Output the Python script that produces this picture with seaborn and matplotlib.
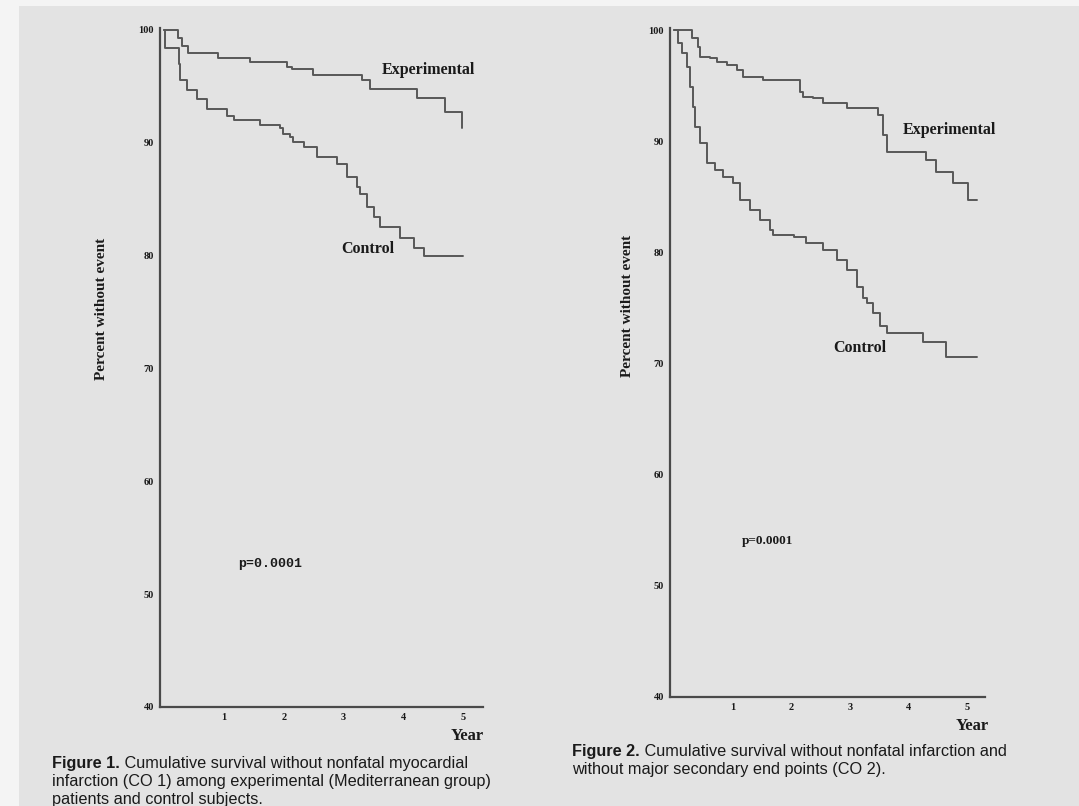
import numpy as np
import pandas as pd
import matplotlib
matplotlib.use("Agg")
import matplotlib.pyplot as plt
from matplotlib.patches import Rectangle
import seaborn as sns

# ---- Figure 1: survival without nonfatal myocardial infarction (CO 1) ----
fig1_exp_years = [0.0, 0.23, 0.30, 0.40, 0.90, 1.44, 2.06, 2.14, 2.49, 3.30, 3.44, 4.23, 4.70, 4.98]
fig1_exp_pct = [100.0, 99.3, 98.6, 98.0, 97.5, 97.2, 96.7, 96.5, 96.0, 95.6, 94.8, 94.0, 92.7, 91.3]

fig1_ctl_years = [0.0, 0.02, 0.24, 0.27, 0.38, 0.55, 0.71, 1.05, 1.16, 1.61, 1.94, 1.99, 2.11, 2.16,
                  2.33, 2.55, 2.89, 3.06, 3.22, 3.28, 3.39, 3.50, 3.61, 3.95, 4.17, 4.34, 5.00]
fig1_ctl_pct = [100.0, 98.4, 97.0, 95.6, 94.7, 93.9, 93.0, 92.4, 92.0, 91.6, 91.3, 90.8, 90.5, 90.1,
                89.6, 88.7, 88.1, 87.0, 86.1, 85.5, 84.3, 83.4, 82.5, 81.6, 80.7, 80.0, 80.0]

# ---- Figure 2: survival without nonfatal infarction and major secondary end points (CO 2) ----
fig2_exp_years = [0.0, 0.24, 0.30, 0.41, 0.44, 0.61, 0.73, 0.90, 1.07, 1.18, 1.52, 2.15, 2.21, 2.38,
                  2.55, 2.95, 3.49, 3.57, 3.63, 4.31, 4.48, 4.77, 5.02, 5.17]
fig2_exp_pct = [100.0, 100.0, 99.25, 98.5, 97.6, 97.45, 97.15, 96.85, 96.4, 95.8, 95.5, 94.45, 94.0, 93.85,
                93.4, 92.95, 92.35, 90.55, 89.05, 88.3, 87.25, 86.2, 84.7, 84.7]

fig2_ctl_years = [0.0, 0.07, 0.13, 0.22, 0.27, 0.33, 0.36, 0.44, 0.56, 0.70, 0.84, 1.01, 1.13, 1.30,
                  1.47, 1.64, 1.69, 2.04, 2.26, 2.55, 2.78, 2.95, 3.12, 3.23, 3.29, 3.40, 3.51, 3.63,
                  4.25, 4.65, 5.17]
fig2_ctl_pct = [100.0, 98.8, 97.9, 96.7, 94.9, 93.1, 91.3, 89.8, 88.0, 87.4, 86.8, 86.2, 84.7, 83.8,
                82.9, 82.0, 81.6, 81.4, 80.8, 80.2, 79.3, 78.4, 76.9, 75.9, 75.4, 74.5, 73.4, 72.7,
                71.9, 70.6, 70.6]

year_ticks = [1, 2, 3, 4, 5]
pct_ticks = [40, 50, 60, 70, 80, 90, 100]

captions = [
    ("Figure 1.", [" Cumulative survival without nonfatal myocardial",
                   "infarction (CO 1) among experimental (Mediterranean group)",
                   "patients and control subjects."]),
    ("Figure 2.", [" Cumulative survival without nonfatal infarction and",
                   "without major secondary end points (CO 2)."]),
]

W, H = 1079, 806
sns.set_style("white")
plt.rcParams["font.family"] = ["Liberation Serif", "DejaVu Serif"]

fig = plt.figure(figsize=(W / 100, H / 100), dpi=100, facecolor="#f4f4f4")
fig.patches.append(Rectangle((19 / W, 0), 1 - 19 / W, 1 - 6 / H, transform=fig.transFigure,
                             facecolor="#e3e3e3", edgecolor="none", zorder=-10))

line_col = "#585858"
ink = "#1a1a1a"


def px_axes(left, right, top, bottom):
    return fig.add_axes([left / W, 1 - bottom / H, (right - left) / W, (bottom - top) / H])


def survival_frame(exp_t, exp_p, ctl_t, ctl_p):
    return pd.DataFrame({
        "year": exp_t + ctl_t,
        "pct": exp_p + ctl_p,
        "group": ["Experimental"] * len(exp_t) + ["Control"] * len(ctl_t),
    })


def style_axes(ax, xlim, ylabel_x, ylabel_y):
    ax.set_facecolor("none")
    ax.set_xlim(*xlim)
    ax.set_ylim(40, 100.2)
    for s in ("top", "right"):
        ax.spines[s].set_visible(False)
    for s in ("left", "bottom"):
        ax.spines[s].set_color("#4a4a4a")
        ax.spines[s].set_linewidth(1.6)
    ax.set_xticks(year_ticks)
    ax.set_xticklabels([str(v) for v in year_ticks])
    ax.set_yticks(pct_ticks)
    ax.set_yticklabels([str(v) for v in pct_ticks])
    ax.tick_params(axis="both", direction="out", length=3, width=1, color="#4a4a4a",
                   labelsize=7.5, labelcolor=ink, pad=1.5)
    for lab in ax.get_xticklabels() + ax.get_yticklabels():
        lab.set_fontweight("bold")
    ax.set_xlabel("")
    ax.set_ylabel("Percent without event", fontsize=11, fontweight="bold", color=ink)
    ax.yaxis.set_label_coords(ylabel_x, ylabel_y)


# Panel 1
ax1 = px_axes(160, 483, 27.7, 707)
df1 = survival_frame(fig1_exp_years, fig1_exp_pct, fig1_ctl_years, fig1_ctl_pct)
sns.lineplot(data=df1, x="year", y="pct", hue="group", estimator=None, sort=False,
             palette={"Experimental": line_col, "Control": line_col}, legend=False,
             drawstyle="steps-post", linewidth=1.4, ax=ax1)
style_axes(ax1, (-0.07, 5.33), -0.161, 0.586)
ax1.text(4.41, 96.45, "Experimental", ha="center", va="center", fontsize=11.5,
         fontweight="bold", color=ink, clip_on=False)
ax1.text(3.41, 80.6, "Control", ha="center", va="center", fontsize=11.5,
         fontweight="bold", color=ink)
ax1.text(1.77, 52.7, "p=0.0001", ha="center", va="center", fontsize=9.5,
         fontweight="bold", color=ink, family="Liberation Mono")
fig.text(484 / W, 1 - 736 / H, "Year", ha="right", va="center", fontsize=12,
         fontweight="bold", color=ink)

# Panel 2
ax2 = px_axes(670, 985, 27.8, 697)
df2 = survival_frame(fig2_exp_years, fig2_exp_pct, fig2_ctl_years, fig2_ctl_pct)
sns.lineplot(data=df2, x="year", y="pct", hue="group", estimator=None, sort=False,
             palette={"Experimental": line_col, "Control": line_col}, legend=False,
             drawstyle="steps-post", linewidth=1.4, ax=ax2)
style_axes(ax2, (-0.07, 5.31), -0.114, 0.584)
ax2.text(4.71, 91.0, "Experimental", ha="center", va="center", fontsize=11.5,
         fontweight="bold", color=ink, clip_on=False)
ax2.text(3.17, 71.4, "Control", ha="center", va="center", fontsize=11.5,
         fontweight="bold", color=ink)
ax2.text(1.59, 54.0, "p=0.0001", ha="center", va="center", fontsize=9.5,
         fontweight="bold", color=ink)
fig.text(989 / W, 1 - 726 / H, "Year", ha="right", va="center", fontsize=12,
         fontweight="bold", color=ink)

# Captions: bold figure number followed by plain text
fig.canvas.draw()
renderer = fig.canvas.get_renderer()
cap_font = ["Liberation Sans", "DejaVu Sans"]
cap_size = 11.7
cap_pos = [(52, 756), (572, 744)]
line_step = 18
for (head, lines), (cx, cy) in zip(captions, cap_pos):
    t = fig.text(cx / W, 1 - cy / H, head, ha="left", va="top", fontsize=cap_size,
                 fontweight="bold", family=cap_font, color=ink)
    bb = t.get_window_extent(renderer=renderer)
    fig.text(bb.x1 / W, 1 - cy / H, lines[0], ha="left", va="top", fontsize=cap_size,
             family=cap_font, color=ink)
    for i, ln in enumerate(lines[1:], start=1):
        fig.text(cx / W, 1 - (cy + i * line_step) / H, ln, ha="left", va="top",
                 fontsize=cap_size, family=cap_font, color=ink)

fig.savefig("out.png", dpi=100, facecolor=fig.get_facecolor())
